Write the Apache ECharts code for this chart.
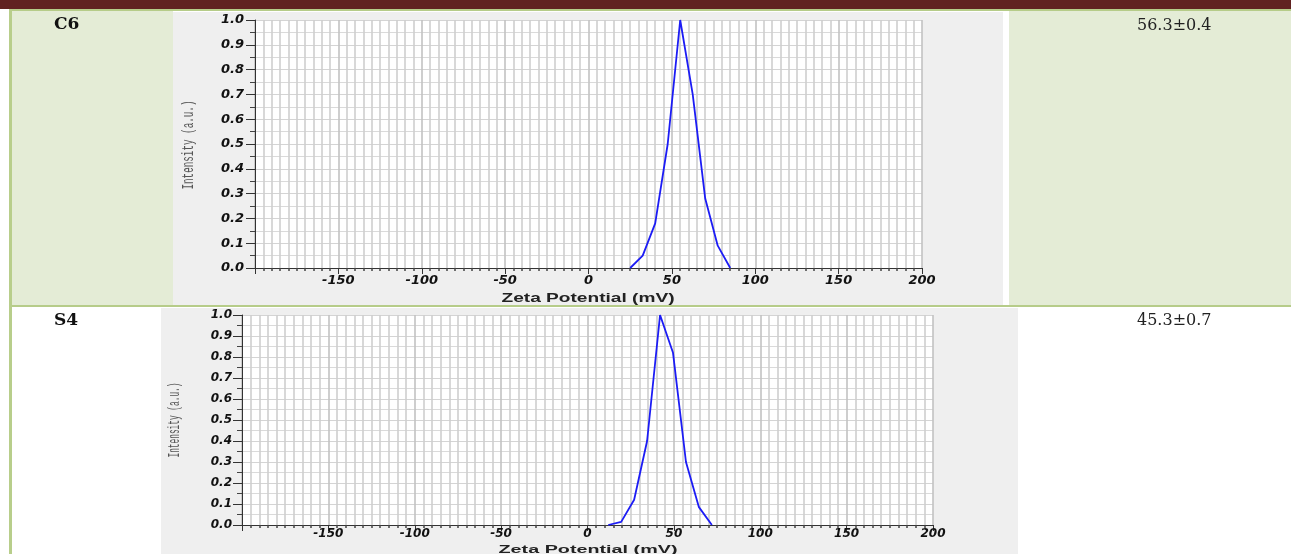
<!DOCTYPE html>
<html>
<head>
<meta charset="utf-8">
<script src="https://cdn.jsdelivr.net/npm/echarts@6/dist/echarts.min.js"></script>
<style>
  html,body{margin:0;padding:0;background:#fff;}
  #wrap{position:relative;width:1291px;height:554px;overflow:hidden;background:#fff;}
  .b{position:absolute;}
  #chart{position:absolute;left:0;top:0;width:1291px;height:554px;}
</style>
</head>
<body>
<div id="wrap">
  <div class="b" style="left:0;top:0;width:1291px;height:9px;background:#612221"></div>
  <div class="b" style="left:9px;top:9px;width:1282px;height:2px;background:#b6cc89"></div>
  <div class="b" style="left:9px;top:9px;width:3px;height:545px;background:#b8ce8b"></div>
  <div class="b" style="left:12px;top:11px;width:161px;height:294px;background:#e4ecd6"></div>
  <div class="b" style="left:173px;top:12px;width:830px;height:293px;background:#efefef"></div>
  <div class="b" style="left:1009px;top:11px;width:282px;height:294px;background:#e4ecd6"></div>
  <div class="b" style="left:12px;top:305px;width:1279px;height:2px;background:#b6cc89"></div>
  <div class="b" style="left:161px;top:308px;width:857px;height:246px;background:#efefef"></div>
  <div id="chart"></div>
</div>
<script>
// ---- data ----
const rowLabels = ['C6', 'S4'];
const zetaValues = ['56.3±0.4', '45.3±0.7'];
const xAxisTitle = 'Zeta Potential (mV)';
const yAxisTitle = 'Intensity (a.u.)';

const C6_X = [25, 32.5, 40, 47.5, 55, 62.5, 70, 77.5, 85];
const C6_Y = [0.0, 0.05, 0.18, 0.50, 1.0, 0.70, 0.28, 0.09, 0.0];

const S4_X = [12, 19.5, 27, 34.5, 42, 49.5, 57, 64.5, 72];
const S4_Y = [0.0, 0.015, 0.12, 0.40, 1.0, 0.82, 0.30, 0.085, 0.0];

// ---- layout ----
const G1 = {left: 255, top: 20, width: 667, height: 248};
const G2 = {left: 242, top: 315, width: 691, height: 210};

function measure(text, font) {
  const c = document.createElement('canvas').getContext('2d');
  c.font = font;
  return c.measureText(text).width;
}

const LINE_COLOR = '#1c1cf5';

function xAxisFor(gi, labelSize, margin) {
  return {
    type: 'value', gridIndex: gi, min: -200, max: 200, interval: 50,
    axisLine: {show: true, onZero: false, lineStyle: {color: '#333', width: 1}},
    axisTick: {show: true, length: 6, lineStyle: {color: '#333'}},
    minorTick: {show: true, splitNumber: 10, length: 3, lineStyle: {color: '#444', width: 1.5}},
    splitLine: {show: true, lineStyle: {color: '#c2c2c2', width: 1.6}},
    minorSplitLine: {show: true, lineStyle: {color: '#cfcfcf', width: 1.6}},
    axisLabel: {
      showMinLabel: false, margin: margin, color: '#111',
      fontFamily: 'DejaVu Sans', fontWeight: 'bold', fontStyle: 'italic', fontSize: labelSize
    }
  };
}
function yAxisFor(gi, labelSize, margin) {
  return {
    type: 'value', gridIndex: gi, min: 0, max: 1, interval: 0.1,
    axisLine: {show: true, onZero: false, lineStyle: {color: '#333', width: 1}},
    axisTick: {show: true, length: 9, lineStyle: {color: '#333'}},
    minorTick: {show: true, splitNumber: 2, length: 5, lineStyle: {color: '#444'}},
    splitLine: {show: true, lineStyle: {color: '#d4d4d4', width: 1}},
    minorSplitLine: {show: true, lineStyle: {color: '#dadada', width: 1}},
    axisLabel: {
      margin: margin, color: '#111', formatter: v => v.toFixed(1),
      fontFamily: 'DejaVu Sans', fontWeight: 'bold', fontStyle: 'italic', fontSize: labelSize
    }
  };
}

const xFont = 'bold 13px "Liberation Sans"';
const xW = measure(xAxisTitle, xFont);
const yFont = '16px "Liberation Mono"';
const yW = measure(yAxisTitle, yFont);

function txt(text, x, y, font, fill, align, extra) {
  return Object.assign({
    type: 'text', x: x, y: y, silent: true, z: 100,
    style: {text: text, font: font, fill: fill, align: align, verticalAlign: 'middle',
            textAlign: align, textVerticalAlign: 'middle'}
  }, extra || {});
}

const chart = echarts.init(document.getElementById('chart'), null, {renderer: 'canvas'});
chart.setOption({
  animation: false,
  backgroundColor: 'transparent',
  grid: [
    Object.assign({show: true, backgroundColor: '#fff', borderWidth: 0, outerBoundsMode: 'none'}, G1),
    Object.assign({show: true, backgroundColor: '#fff', borderWidth: 0, outerBoundsMode: 'none'}, G2)
  ],
  xAxis: [xAxisFor(0, 13, 6), xAxisFor(1, 12, 3)],
  yAxis: [yAxisFor(0, 13, 11), yAxisFor(1, 12, 10)],
  series: [
    {type: 'line', xAxisIndex: 0, yAxisIndex: 0, showSymbol: false,
     data: C6_X.map((x, i) => [x, C6_Y[i]]),
     lineStyle: {color: LINE_COLOR, width: 1.8}},
    {type: 'line', xAxisIndex: 1, yAxisIndex: 1, showSymbol: false,
     data: S4_X.map((x, i) => [x, S4_Y[i]]),
     lineStyle: {color: LINE_COLOR, width: 1.8}}
  ],
  graphic: {elements: [
    txt(rowLabels[0], 54, 25, 'bold 17px "DejaVu Serif"', '#111', 'left'),
    txt(rowLabels[1], 54, 321, 'bold 17px "DejaVu Serif"', '#111', 'left'),
    txt(zetaValues[0], 1137, 26, '16px "DejaVu Serif"', '#222', 'left'),
    txt(zetaValues[1], 1137, 321, '16px "DejaVu Serif"', '#222', 'left'),
    txt(xAxisTitle, 588, 298, xFont, '#222', 'center', {scaleX: 173 / xW}),
    txt(xAxisTitle, 588, 550, xFont, '#222', 'center', {scaleX: 179 / xW, scaleY: 0.85}),
    txt(yAxisTitle, 189, 145, yFont, '#555', 'center', {rotation: Math.PI / 2, scaleX: 89 / yW}),
    txt(yAxisTitle, 175, 420, yFont, '#555', 'center', {rotation: Math.PI / 2, scaleX: 75 / yW})
  ]}
});
</script>
</body>
</html>
